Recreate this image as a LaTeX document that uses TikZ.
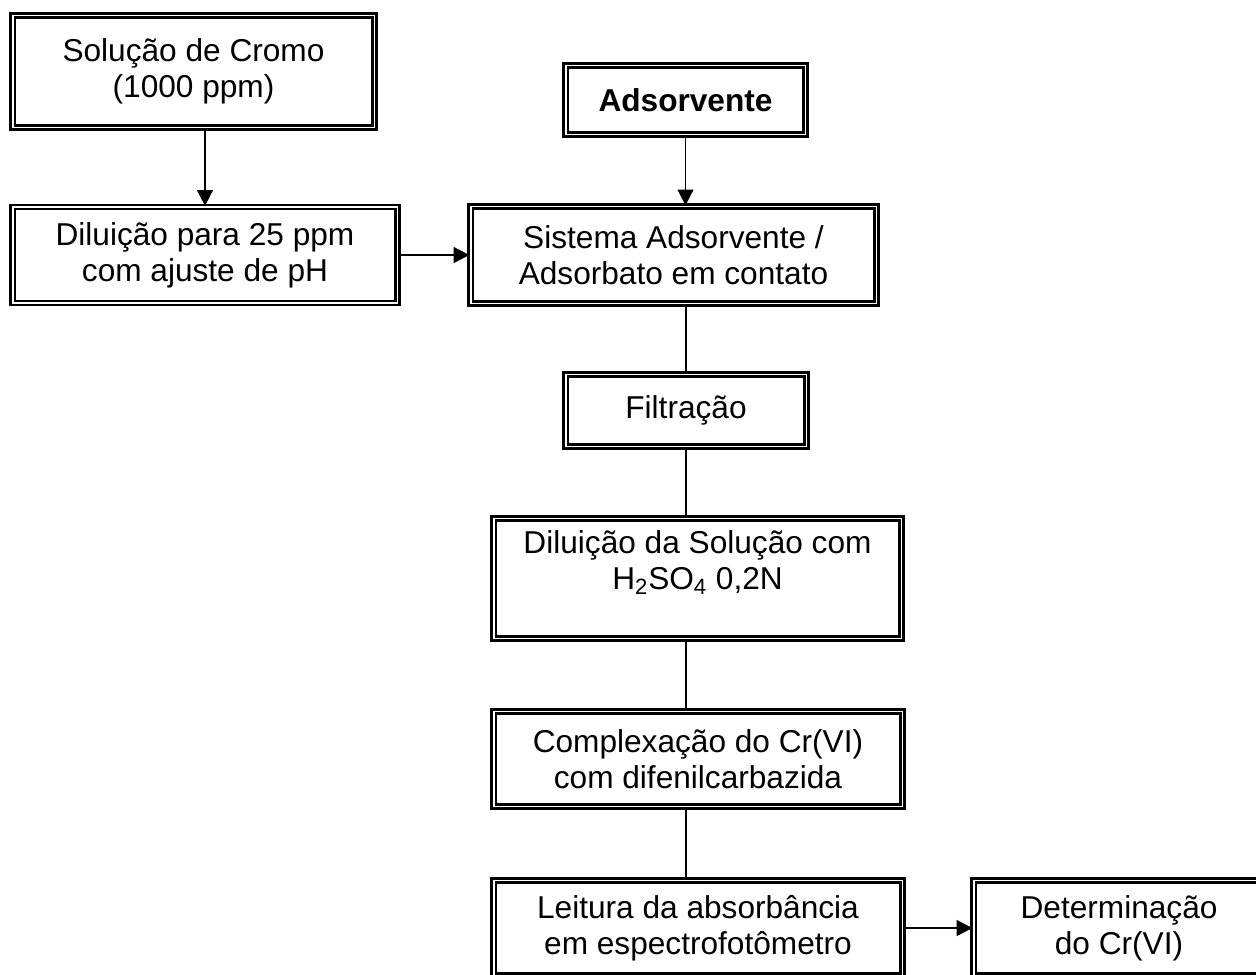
\documentclass[tikz,border=0pt]{standalone}
\usepackage{fontspec}
\setmainfont{Liberation Sans}
\usetikzlibrary{positioning,arrows.meta}

\begin{document}
\begin{tikzpicture}[
  x=0.02cm, y=-0.02cm,
  font=\fontsize{18}{20.5}\selectfont,
  box/.style={rectangle, draw=black, double=white, double distance=1.1pt, line width=1.3pt,
              inner sep=0pt, fill=white, align=center},
  lnk/.style={draw=black, line width=1pt},
  arr/.style={lnk, -{Triangle[length=9pt,width=9pt]}}
]
\useasboundingbox (0,0) rectangle (1256,974);
\clip (0,0) rectangle (1256,974);

\node[box, minimum width=7.24cm, minimum height=2.24cm] (sol)    at (193.5, 71.5) {Solução de Cromo \\ (1000 ppm)};
\node[box, minimum width=7.70cm, minimum height=1.92cm] (dil)    at (205, 255)    {Diluição para 25 ppm \\ com ajuste de pH};
\node[box, minimum width=4.80cm, minimum height=1.38cm] (ads)    at (685.5, 100)  {\bfseries Adsorvente};
\node[box, minimum width=8.12cm, minimum height=1.94cm] (sis)    at (673.5, 255)  {Sistema Adsorvente / \\ Adsorbato em contato};
\node[box, minimum width=4.82cm, minimum height=1.44cm] (filt)   at (686, 410.5)  {Filtração};
\node[box, minimum width=8.16cm, minimum height=2.40cm] (dilsol) at (697.5, 578.5){Diluição da Solução com \\ H\textsubscript{2}SO\textsubscript{4} 0,2N \\ \mbox{}};
\node[box, minimum width=8.18cm, minimum height=1.90cm] (comp)   at (698, 759)    {Complexação do Cr(VI) \\ com difenilcarbazida};
\node[box, minimum width=8.18cm, minimum height=1.90cm] (leit)   at (698, 928)    {Leitura da absorbância \\ em espectrofotômetro};
\node[box, minimum width=5.82cm, minimum height=1.90cm] (det)    at (1119, 928)   {Determinação \\ do Cr(VI)};

\draw[arr] (sol.south -| dil.north) -- (dil.north);
\draw[arr] (ads.south) -- (ads.south |- sis.north);
\draw[arr] (dil.east) -- (sis.west);
\draw[lnk] (filt.north |- sis.south) -- (filt.north);
\draw[lnk] (filt.south) -- (filt.south |- dilsol.north);
\draw[lnk] (filt.south |- dilsol.south) -- (filt.south |- comp.north);
\draw[lnk] (filt.south |- comp.south) -- (filt.south |- leit.north);
\draw[arr] (leit.east) -- (det.west);
\end{tikzpicture}
\end{document}
